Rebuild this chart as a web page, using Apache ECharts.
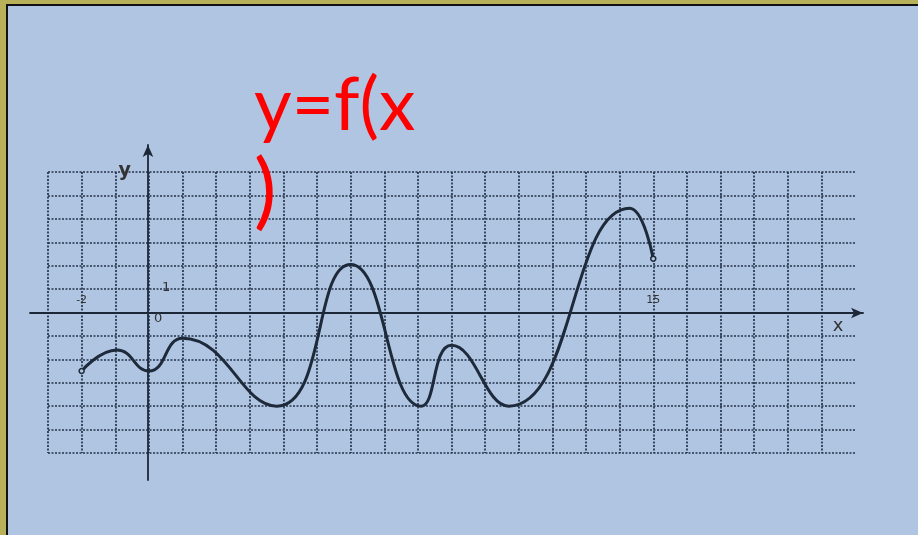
<!DOCTYPE html>
<html>
<head>
<meta charset="utf-8">
<script src="https://cdn.jsdelivr.net/npm/echarts@6/dist/echarts.min.js"></script>
<style>
html, body { margin: 0; padding: 0; width: 918px; height: 535px; overflow: hidden; background: #b8b15a; }
#bg { position: absolute; left: 6px; top: 4px; right: 0; bottom: 0; border-left: 2px solid #111; border-top: 2px solid #111; background: #afc5e2; }
#main { position: absolute; left: 0; top: 0; width: 918px; height: 535px; }
</style>
</head>
<body>
<div id="bg"></div>
<div id="main"></div>
<script>
// curve: ends and extremes
var xs = [-2, -0.95, 0, 1, 3.8, 6, 8.1, 9, 10.7, 14.3, 15];
var ys = [-2.5, -1.6, -2.5, -1.1, -4.0, 2.05, -4.0, -1.4, -4.0, 4.45, 2.3];
var xLabels = [-2, 15];
var yLabels = [0, 1];

var curve = xs.map(function (x, i) { return [x, ys[i]]; });

var gridColor = '#24334a';
// vertical lines stop at x=20, horizontal ones run to x=21
var vColors = [];
for (var i = -3; i <= 21; i++) vColors.push(i === 21 ? 'rgba(0,0,0,0)' : gridColor);

var chart = echarts.init(document.getElementById('main'), null, { renderer: 'canvas' });
chart.setOption({
  backgroundColor: 'transparent',
  animation: false,
  title: {
    text: '{a|y=f(x}\n{b|)}',
    left: 249,
    top: 58,
    textStyle: {
      fontWeight: 'normal',
      rich: {
        a: { color: '#ff0000', fontSize: 73, fontWeight: 'normal', fontFamily: 'Lato', lineHeight: 86 },
        b: { color: '#ff0000', fontSize: 84, fontWeight: 'normal', fontFamily: 'Lato', lineHeight: 86 }
      }
    }
  },
  grid: [
    { left: 48, right: 63, top: 172, bottom: 82 },
    { left: 30, right: 55, top: 145, bottom: 55 }
  ],
  xAxis: [
    {
      gridIndex: 0, type: 'value', min: -3, max: 21, interval: 1,
      position: 'bottom', offset: -140,
      axisLine: { show: false, onZero: false }, axisTick: { show: false },
      axisLabel: {
        inside: true, margin: 7, color: '#333', fontSize: 11, fontFamily: 'DejaVu Sans',
        formatter: function (v) { return xLabels.indexOf(v) >= 0 ? String(v) : ''; }
      },
      splitLine: { show: true, lineStyle: { color: vColors, width: 1.7, type: [2, 1.5] } }
    },
    {
      gridIndex: 1, type: 'value', min: -3.51, max: 21.28,
      axisLine: { onZero: true, symbol: ['none', 'arrow'], symbolSize: [8, 12], lineStyle: { color: '#1c2738', width: 1.8 } },
      axisTick: { show: false }, axisLabel: { show: false }, splitLine: { show: false },
      name: 'x', nameLocation: 'end', nameGap: -25,
      nameTextStyle: { color: '#333', fontSize: 18, fontFamily: 'DejaVu Sans', align: 'center', verticalAlign: 'top', padding: [4, 0, 0, 0] }
    }
  ],
  yAxis: [
    {
      gridIndex: 0, type: 'value', min: -6, max: 6, interval: 1,
      position: 'left', offset: -100,
      axisLine: { show: false, onZero: false }, axisTick: { show: false },
      axisLabel: {
        inside: true, margin: 6, color: '#333', fontSize: 13, fontFamily: 'DejaVu Sans',
        formatter: function (v) {
          if (yLabels.indexOf(v) < 0) return '';
          return v === 0 ? '{z|0}' : '{o|' + v + '}';
        },
        rich: {
          z: { color: '#333', fontSize: 13, fontFamily: 'DejaVu Sans', padding: [12, 0, 0, 0] },
          o: { color: '#333', fontSize: 13, fontFamily: 'DejaVu Sans', padding: [0, 0, 2, 8] }
        }
      },
      splitLine: { show: true, lineStyle: { color: gridColor, width: 1.7, type: [2, 1.5] } }
    },
    {
      gridIndex: 1, type: 'value', min: -7.14, max: 7.18,
      axisLine: { onZero: true, symbol: ['none', 'arrow'], symbolSize: [8, 12], lineStyle: { color: '#1c2738', width: 1.8 } },
      axisTick: { show: false }, axisLabel: { show: false }, splitLine: { show: false },
      name: 'y', nameLocation: 'end', nameGap: -36,
      nameTextStyle: { color: '#333', fontSize: 19, fontWeight: 'bold', fontFamily: 'DejaVu Sans', align: 'right', padding: [0, 17, 0, 0] }
    }
  ],
  series: [
    {
      type: 'line',
      xAxisIndex: 0, yAxisIndex: 0,
      data: curve,
      smooth: 0.5,
      showSymbol: true,
      showAllSymbol: true,
      symbol: function (v, p) { return (p.dataIndex === 0 || p.dataIndex === curve.length - 1) ? 'circle' : 'none'; },
      symbolSize: 5,
      itemStyle: { color: '#afc5e2', borderColor: '#1e2a3a', borderWidth: 1.5 },
      lineStyle: { color: '#1e2a3a', width: 3 },
      z: 5
    }
  ]
});
</script>
</body>
</html>
